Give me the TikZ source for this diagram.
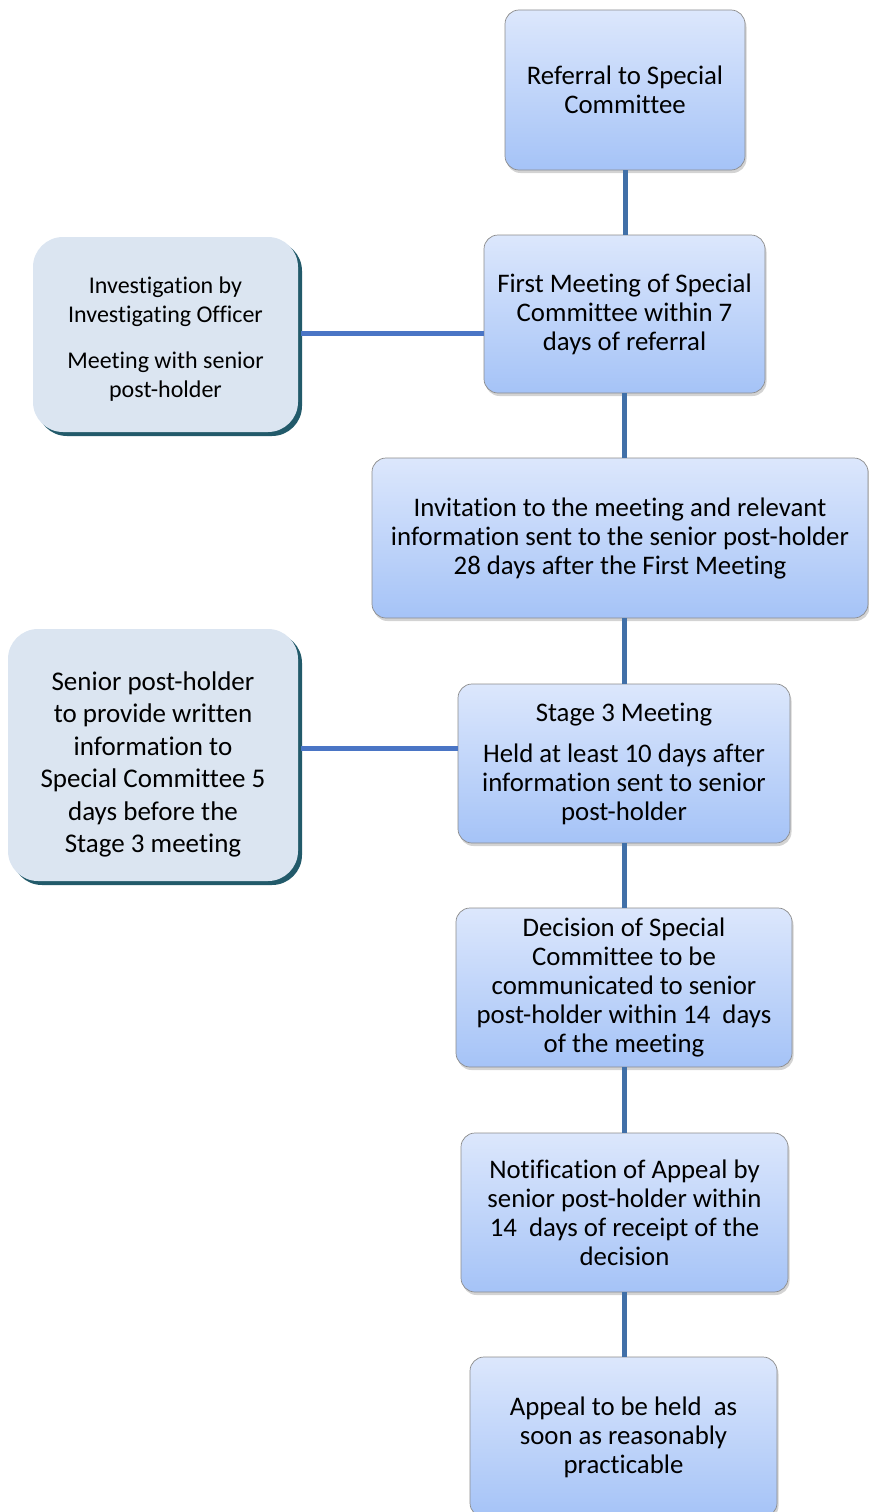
\documentclass[tikz,border=0pt]{standalone}
\usepackage{fontspec}
\setmainfont[RawFeature=-liga]{Carlito}
\usetikzlibrary{shadows}
\definecolor{boxtop}{HTML}{DCE7FC}
\definecolor{boxbot}{HTML}{A5C3F7}
\definecolor{boxline}{HTML}{8C8C8C}
\definecolor{sidefill}{HTML}{DBE5F1}
\definecolor{sideshadow}{HTML}{225A6A}
\definecolor{vline}{HTML}{4170A8}
\definecolor{hline}{HTML}{4A75C5}
\tikzset{
  mainbox/.style={draw=boxline, line width=0.7pt, rounded corners=14pt,
    top color=boxtop, bottom color=boxbot, align=center, inner sep=0pt,
    font=\fontsize{26.8}{29}\selectfont,
    drop shadow={shadow xshift=1.5pt, shadow yshift=-3pt, opacity=0.35}},
  sidebox/.style={fill=sidefill, rounded corners=30pt, align=center, inner sep=0pt,
    drop shadow={shadow xshift=4pt, shadow yshift=-4pt, fill=sideshadow, opacity=1}},
  vconn/.style={draw=vline, line width=5pt},
  hconn/.style={draw=hline, line width=5pt}
}
\begin{document}
\begin{tikzpicture}[x=1pt, y=-1pt]
\useasboundingbox (0,0) rectangle (869,1512);

\node[mainbox, minimum width=240pt, minimum height=160pt] (n1) at (625,90)
  {Referral to Special\\Committee};
\node[mainbox, minimum width=281pt, minimum height=158pt] (n2) at (624.5,314)
  {First Meeting of Special\\Committee within 7\\days of referral};
\node[mainbox, minimum width=496pt, minimum height=160pt] (n3) at (620,538)
  {Invitation to the meeting and relevant\\information sent to the senior post-holder\\28 days after the First Meeting};
\node[mainbox, minimum width=332pt, minimum height=159pt] (n4) at (624,763.5)
  {Stage 3 Meeting\\[12pt]Held at least 10 days after\\information sent to senior\\post-holder};
\node[mainbox, minimum width=336pt, minimum height=159pt] (n5) at (624,987.5)
  {Decision of Special\\Committee to be\\communicated to senior\\post-holder within 14~ days\\of the meeting};
\node[mainbox, minimum width=327pt, minimum height=159pt] (n6) at (624.5,1212.5)
  {Notification of Appeal by\\senior post-holder within\\14~ days of receipt of the\\decision};
\node[mainbox, minimum width=307pt, minimum height=160pt] (n7) at (623.5,1437)
  {Appeal to be held~ as\\soon as reasonably\\practicable};

\node[sidebox, minimum width=265pt, minimum height=195pt] (l1) at (165.5,334.5)
  {\raisebox{-5pt}[\height][\depth]{\fontsize{24}{29}\selectfont
   \begin{tabular}{@{}c@{}}Investigation by\\Investigating Officer\\[17pt]Meeting with senior\\post-holder\end{tabular}}};
\node[sidebox, minimum width=290pt, minimum height=252pt] (l2) at (153,755)
  {\raisebox{-10pt}[\height][\depth]{\fontsize{27}{32.4}\selectfont
   \begin{tabular}{@{}c@{}}Senior post-holder\\to provide written\\information to\\Special Committee 5\\days before the\\Stage 3 meeting\end{tabular}}};

\draw[vconn] (n1.south) -- (n1.south |- n2.north);
\draw[vconn] (n2.south) -- (n2.south |- n3.north);
\draw[vconn] (n4.north) -- (n4.north |- n3.south);
\draw[vconn] (n4.south) -- (n4.south |- n5.north);
\draw[vconn] (n5.south) -- (n5.south |- n6.north);
\draw[vconn] (n6.south) -- (n6.south |- n7.north);

\draw[hconn] ([xshift=3pt,yshift=1.5pt]l1.east) -- ([yshift=1.5pt]l1.east -| n2.west);
\draw[hconn] ([xshift=3pt,yshift=7pt]l2.east) -- ([yshift=7pt]l2.east -| n4.west);
\end{tikzpicture}
\end{document}
